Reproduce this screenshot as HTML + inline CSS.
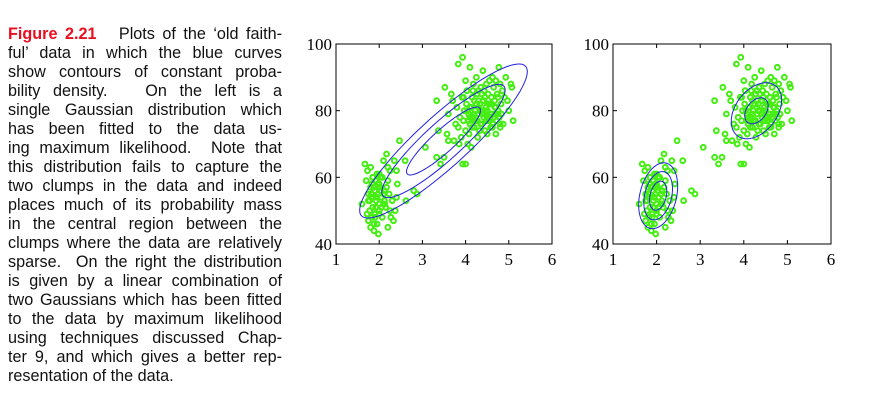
<!DOCTYPE html>
<html><head><meta charset="utf-8">
<style>
html,body{margin:0;padding:0;background:#fff;width:877px;height:402px;overflow:hidden;position:relative}
.cap{position:absolute;left:8px;width:274px;font-family:"Liberation Sans",sans-serif;font-size:16.2px;color:#111;line-height:19px;white-space:nowrap;text-align:justify;text-align-last:justify}
.cap.last{text-align-last:left}
.red{color:#e8101e;font-weight:bold}
svg{position:absolute;left:0;top:0}
</style></head><body>
<div id="caption"></div>
<svg id="chart" width="877" height="402"></svg>
<script>
const eruptions=[1.6,1.67,1.7,1.73,1.75,1.75,1.78,1.8,1.8,1.82,1.83,1.83,1.85,1.85,1.87,1.88,1.9,1.9,1.92,1.93,1.95,1.95,1.97,1.98,2.0,2.0,2.0,2.02,2.03,2.05,2.07,2.1,2.1,2.12,2.15,2.17,2.2,2.2,2.23,2.25,2.27,2.3,2.33,2.35,2.37,2.4,2.4,2.42,2.47,2.6,2.62,2.8,2.88,1.72,1.78,1.8,1.85,1.88,1.92,1.95,1.97,2.0,2.03,2.07,2.1,2.13,2.17,2.2,1.75,1.82,1.9,1.93,1.98,2.05,2.12,2.25,1.85,1.9,2.0,
3.07,3.33,3.33,3.37,3.42,3.5,3.52,3.57,3.6,3.6,3.67,3.7,3.73,3.77,3.8,3.83,3.85,3.87,3.9,3.92,3.93,3.95,3.97,4.0,4.0,4.02,4.03,4.05,4.07,4.08,4.1,4.1,4.12,4.13,4.15,4.17,4.18,4.2,4.2,4.22,4.23,4.25,4.27,4.28,4.3,4.3,4.32,4.33,4.35,4.37,4.38,4.4,4.4,4.42,4.43,4.45,4.47,4.48,4.5,4.5,4.52,4.53,4.55,4.57,4.58,4.6,4.6,4.62,4.63,4.65,4.67,4.68,4.7,4.7,4.72,4.73,4.75,4.77,4.78,4.8,4.8,4.82,4.83,4.85,4.87,4.9,4.93,4.97,5.0,5.05,5.07,5.1,
3.83,3.93,4.0,4.07,4.1,4.15,4.2,4.25,4.3,4.35,4.4,4.45,4.5,4.55,4.6,4.65,4.7,4.75,4.8,3.95,4.05,4.13,4.22,4.33,4.42,4.5,4.58,4.67,4.75,4.1,4.27,4.45,4.62,4.37,4.53,4.68,4.17,4.3,4.48,4.57];
const waiting=[52,64,59,62,47,55,50,63,45,54,58,48,60,51,57,44,56,49,59,53,46,61,55,43,52,58,50,57,60,54,48,65,52,56,51,67,59,45,55,62,48,53,47,65,50,54,62,58,71,65,53,56,55,49,53,57,60,46,51,54,58,49,56,60,55,52,57,63,53,55,48,59,57,51,53,50,54,56,61,
69,66,83,74,64,66,87,73,71,79,85,83,71,76,81,75,70,78,72,84,64,77,80,89,74,82,86,70,79,73,93,76,81,69,84,78,88,83,75,80,77,90,85,72,79,86,74,82,87,80,76,92,83,78,86,74,81,88,80,73,85,77,89,82,75,84,79,90,76,87,83,81,73,89,77,85,80,93,78,75,88,82,79,86,76,84,90,83,80,88,87,77,94,96,
64,77,78,75,79,82,83,76,79,84,80,77,82,78,81,79,76,84,80,81,77,80,83,78,82,79,84,81,77,80,75,85,82,79,86,81,77,78,80,83];
const xTicks=[1,2,3,4,5,6];
const yTicks=[40,60,80,100];
const leftMean=[3.488,70.9],leftCov=[[1.3027,13.978],[13.978,184.82]],leftLevels=[0.75,1.25,1.7];
const mixMeans=[[2.036,54.48],[4.29,79.97]];
const mixCovs=[[[0.0692,0.4352],[0.4352,33.7]],[[0.17,0.941],[0.941,36.05]]];
const mixLevels=[[0.75,1.25,1.7],[0.65,1.4]];
const captionLines=["<span class='red'>Figure 2.21</span>&nbsp;&nbsp; Plots of the ‘old faith-","ful’ data in which the blue curves","show contours of constant proba-","bility density.&nbsp;&nbsp; On the left is a","single Gaussian distribution which","has been fitted to the data us-","ing maximum likelihood.&nbsp; Note that","this distribution fails to capture the","two clumps in the data and indeed","places much of its probability mass","in the central region between the","clumps where the data are relatively","sparse.&nbsp; On the right the distribution","is given by a linear combination of","two Gaussians which has been fitted","to the data by maximum likelihood","using techniques discussed Chap-","ter 9, and which gives a better rep-","resentation of the data."];

const cap=document.getElementById('caption');
captionLines.forEach((t,i)=>{const d=document.createElement('div');


d.className='cap'+(i===captionLines.length-1?' last':'');d.style.top=(25+i*19)+'px';d.innerHTML=t;cap.appendChild(d);});

const NS='http://www.w3.org/2000/svg',svg=document.getElementById('chart');
function mk(tag,at,parent){const e=document.createElementNS(NS,tag);for(const k in at)e.setAttribute(k,at[k]);(parent||svg).appendChild(e);return e;}
function panel(x0,x1,name){
 const top=44,bot=244;
 const sx=v=>x0+(v-1)/5*(x1-x0), sy=v=>bot-(v-40)/60*(bot-top);
 const g=mk('g',{});
 
 
 const fr=mk('rect',{x:x0,y:top,width:x1-x0,height:bot-top,fill:'none',stroke:'#000','stroke-width':1},g);
 
 
 xTicks.forEach(t=>{const X=sx(t);
  if(t>1&&t<6){mk('line',{x1:X,x2:X,y1:bot,y2:bot-4,stroke:'#000'},g);mk('line',{x1:X,x2:X,y1:top,y2:top+4,stroke:'#000'},g);}
  const tx=mk('text',{x:X,y:bot+21,'text-anchor':'middle','font-family':'Liberation Serif, serif','font-size':17,fill:'#000'},g);tx.textContent=t;
  
  });
 yTicks.forEach(t=>{const Y=sy(t);
  if(t>40&&t<100){mk('line',{x1:x0,x2:x0+4,y1:Y,y2:Y,stroke:'#000'},g);mk('line',{x1:x1,x2:x1-4,y1:Y,y2:Y,stroke:'#000'},g);}
  const tx=mk('text',{x:x0-4,y:Y+6,'text-anchor':'end','font-family':'Liberation Serif, serif','font-size':17,fill:'#000'},g);tx.textContent=t;
  
  });
 eruptions.forEach((e,i)=>{const c=mk('circle',{cx:sx(e),cy:sy(waiting[i]),r:2.4,fill:'none',stroke:'#44ee11','stroke-width':2},g);
  
  });
 return {g,sx,sy};
}
function ellipse(p,mean,cov,r){
 const a=Math.sqrt(cov[0][0]),b=cov[1][0]/a,c=Math.sqrt(cov[1][1]-b*b);let d='';
 for(let k=0;k<=120;k++){const t=k/120*2*Math.PI,u=r*Math.cos(t),v=r*Math.sin(t);
  const X=p.sx(mean[0]+a*u),Y=p.sy(mean[1]+b*u+c*v);d+=(k?'L':'M')+X.toFixed(1)+','+Y.toFixed(1);}
 const e=mk('path',{d:d,fill:'none',stroke:'#2020e0','stroke-width':1},p.g);
 
 
}
const L=panel(336,552,'left-single-gaussian-plot');
leftLevels.forEach(r=>ellipse(L,leftMean,leftCov,r));
const R=panel(613,831,'right-mixture-plot');
mixMeans.forEach((m,j)=>mixLevels[j].forEach(r=>ellipse(R,m,mixCovs[j],r)));
</script>
</body></html>
